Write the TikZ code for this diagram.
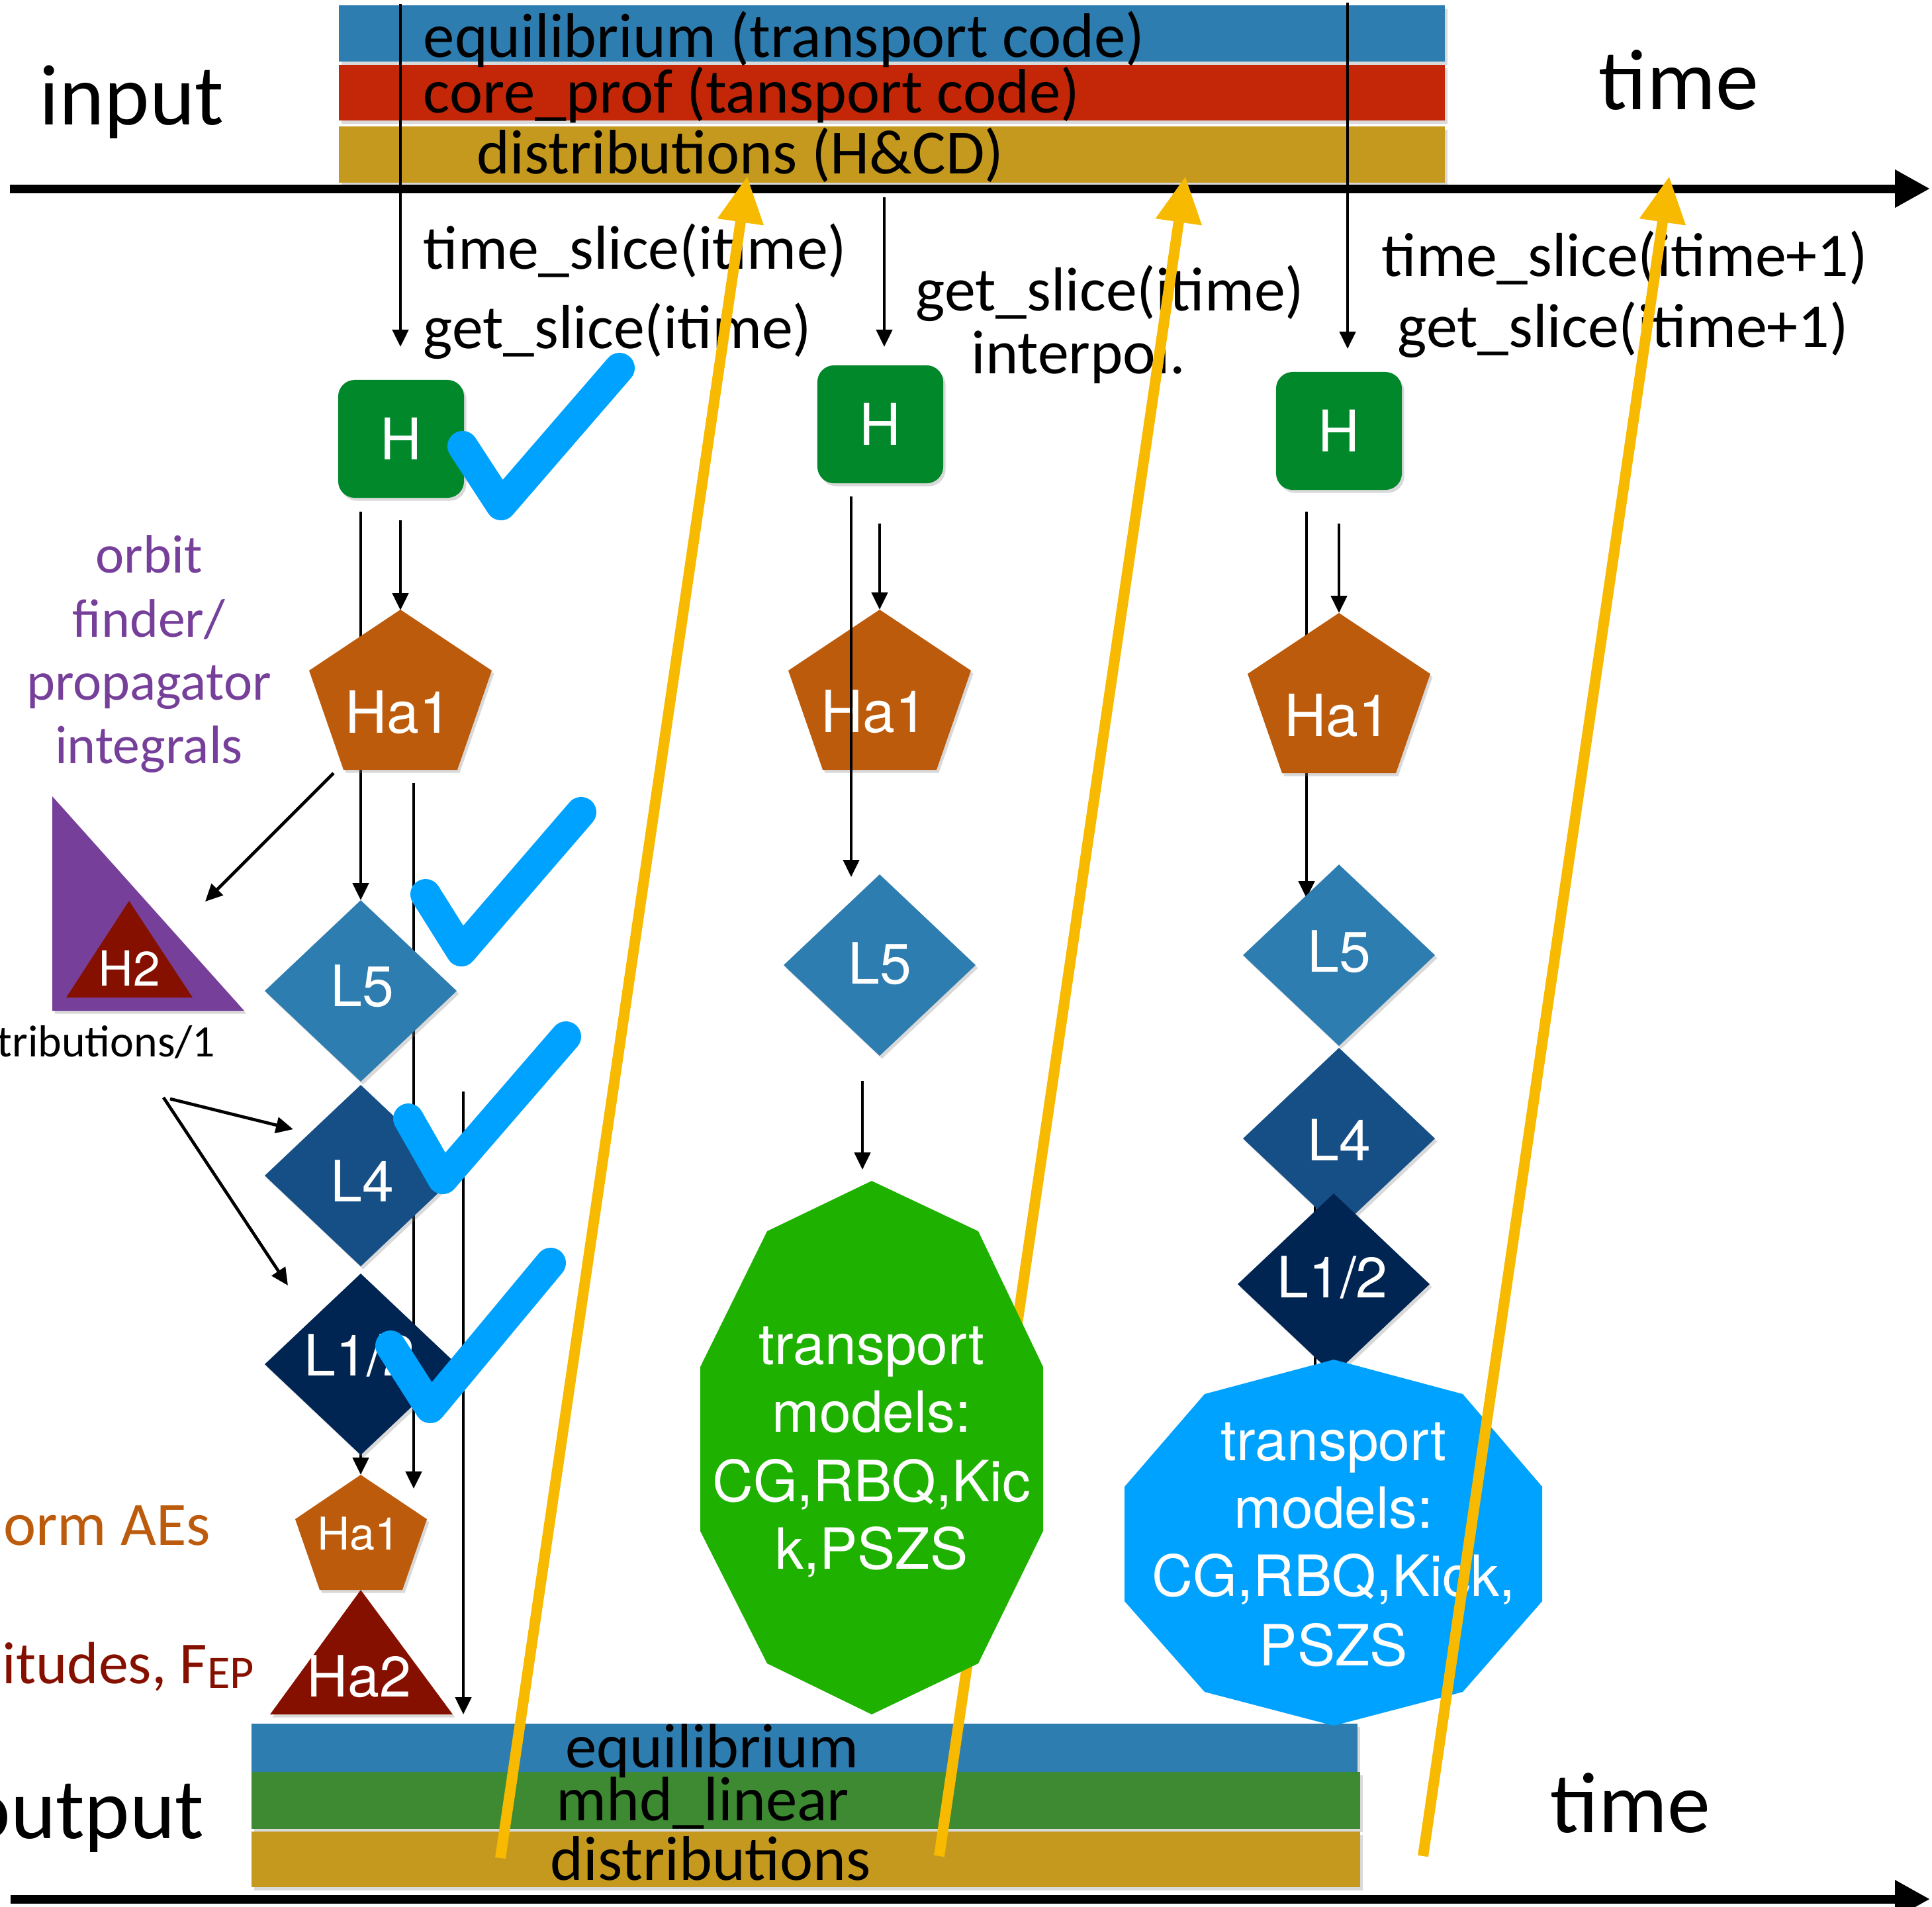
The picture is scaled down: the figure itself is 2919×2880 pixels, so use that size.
\documentclass[tikz,border=0pt]{standalone}
\usepackage{fontspec}
\setmainfont{Carlito}
\newfontfamily\hv{TeX Gyre Heros}
\usetikzlibrary{arrows.meta,shadows}
\definecolor{barblue}{HTML}{2E7DB0}
\definecolor{barred}{HTML}{C42608}
\definecolor{bargold}{HTML}{C4991E}
\definecolor{bargreen}{HTML}{3E8A32}
\definecolor{hgreen}{HTML}{00882B}
\definecolor{pentor}{HTML}{BD5B0C}
\definecolor{lfour}{HTML}{164F86}
\definecolor{lonetwo}{HTML}{002552}
\definecolor{purp}{HTML}{763F9A}
\definecolor{dred}{HTML}{861000}
\definecolor{tgreen}{HTML}{1EB100}
\definecolor{skyb}{HTML}{00A2FF}
\definecolor{ylwc}{HTML}{F7BA00}
\newcommand{\pentshape}[2]{\fill[pentor,shd] ({#1-138},{#2+92}) -- (#1,#2) -- ({#1+138},{#2+92}) -- ({#1+86},{#2+242}) -- ({#1-86},{#2+242}) -- cycle;}
\newcommand{\diamshape}[3]{\fill[#3,shd] ({#1-145},#2) -- (#1,{#2-137}) -- ({#1+145},#2) -- (#1,{#2+137}) -- cycle;}
\begin{document}
\begin{tikzpicture}[x=0.01cm,y=-0.01cm,
  shd/.style={drop shadow={shadow xshift=0.035cm,shadow yshift=-0.045cm,opacity=0.3}},
  lbl/.style={inner sep=0pt,anchor=base west},
  bigf/.style={font=\fontsize{37pt}{44pt}\selectfont},
  barf/.style={font=\fontsize{27pt}{32pt}\selectfont},
  slf/.style={font=\fontsize{26.7pt}{32pt}\selectfont},
  wtxt/.style={inner sep=0pt,anchor=base,text=white},
  blk/.style={line width=0.047cm,-{Triangle[length=0.26cm,width=0.24cm]}},
  blkline/.style={line width=0.047cm},
  ylw/.style={draw=ylwc,line width=0.16cm,-{Triangle[length=0.7cm,width=0.66cm]}},
  tline/.style={line width=0.13cm,-{Triangle[length=0.53cm,width=0.54cm]}},
  chk/.style={draw=skyb,line width=0.46cm,line cap=round,line join=round},
  hbox/.style={rectangle,rounded corners=0.25cm,minimum width=1.9cm,minimum height=1.78cm,inner sep=0pt,fill=hgreen,text=white,font=\hv\fontsize{24.7pt}{30pt}\selectfont,shd}]
\useasboundingbox (0,0) rectangle (2919,2880);
\clip (0,0) rectangle (2919,2880);

% ---------- bars ----------
\fill[barblue,shd] (512,8) rectangle (2183,93);
\fill[barred,shd] (512,98) rectangle (2183,182);
\fill[bargold,shd] (512,191) rectangle (2183,276);
\fill[barblue,shd] (380,2604) rectangle (2051,2677);
\fill[bargreen,shd] (380,2677) rectangle (2055,2763);
\fill[bargold,shd] (380,2767) rectangle (2055,2851);

\node[lbl,barf] (teq) at (639,86) {equilibrium (transport code)};
\node[lbl,barf] (tcp) at (639,170) {core\_prof (tansport code)};
\node[lbl,barf] (tdi) at (720,262) {distributions (H\&CD)};
\node[lbl,barf,anchor=base] (beq) at (1076,2670) {equilibrium};
\node[lbl,barf,anchor=base] (bmhd) at (1062,2750) {mhd\_linear};
\node[lbl,barf,anchor=base] (bdi) at (1074,2840) {distributions};

% ---------- time axes ----------
\coordinate (ax1s) at (15,285);
\coordinate (ax1e) at (2916,285);
\coordinate (ax2s) at (16,2869);
\coordinate (ax2e) at (2916,2869);
\draw[tline] (ax1s) -- (ax1e);
\draw[tline] (ax2s) -- (ax2e);

% ---------- labels ----------
\node[lbl,bigf] (input) at (59,188) {input};
\node[lbl,bigf] (timetop) at (2415,165) {time};
\node[lbl,bigf,anchor=base east] (output) at (309,2777) {output};
\node[lbl,bigf] (timebot) at (2342,2768) {time};

\node[lbl,slf] (tsl1) at (639,406) {time\_slice(itime)};
\node[lbl,slf] (gsl1) at (639,526) {get\_slice(itime)};
\node[lbl,slf] (gsl2) at (1383,469) {get\_slice(itime)};
\node[lbl,slf] (interp) at (1467,564) {interpol.};
\node[lbl,slf] (tsl3) at (2087,417) {time\_slice(itime+1)};
\node[lbl,slf] (gsl3) at (2111,524) {get\_slice(itime+1)};

\begin{scope}[every node/.style={inner sep=0pt,anchor=base,text=purp,font=\fontsize{23.3pt}{28pt}\selectfont}]
\node (orb1) at (225,865) {orbit};
\node (orb2) at (225,962) {finder/};
\node (orb3) at (225,1057) {propagator};
\node (orb4) at (225,1153) {integrals};
\end{scope}
\node[inner sep=0pt,anchor=base east,font=\fontsize{19.3pt}{23pt}\selectfont] (distr) at (326,1596) {tributions/1};
\node[inner sep=0pt,anchor=base east,text=pentor,font=\fontsize{26.5pt}{32pt}\selectfont] (aes) at (319,2334) {orm AEs};
\node[inner sep=0pt,anchor=base west,text=dred,font=\fontsize{25.6pt}{30pt}\selectfont] (ampl) at (3,2543) {itudes, F\raisebox{-0.07cm}{\fontsize{20pt}{24pt}\selectfont EP}};

% ---------- connectors behind shapes ----------
\coordinate (a2s) at (545,773);   \coordinate (a2e) at (545,1360);
\coordinate (a4s) at (625,1183);  \coordinate (a4e) at (625,2249);
\coordinate (a6s) at (545,2185);  \coordinate (a6e) at (545,2228);
\coordinate (c2s) at (1974,773);  \coordinate (c2e) at (1974,1357);
\coordinate (c4s) at (1987,1700); \coordinate (c4e) at (1987,2075);
\draw[blk] (a2s) -- (a2e);
\draw[blk] (a4s) -- (a4e);
\draw[blk] (a6s) -- (a6e);
\draw[blk] (c2s) -- (c2e);
\draw[blkline] (c4s) -- (c4e);

% yellow arrow behind the green shape
\coordinate (y2s) at (1419,2804); \coordinate (y2e) at (1791,266);
\draw[ylw] (y2s) -- (y2e);

% ---------- shapes ----------
\node[hbox] (H1) at (606,663) {H};
\node[hbox] (H2) at (1330,641) {H};
\node[hbox] (H3) at (2023,651) {H};

\pentshape{605}{921}
\pentshape{1329}{921}
\pentshape{2023}{926}

\diamshape{545}{1497}{barblue}
\diamshape{545}{1776}{lfour}
\diamshape{545}{2061}{lonetwo}
\diamshape{1329}{1458}{barblue}
\diamshape{2023}{1443}{barblue}
\diamshape{2023}{1720}{lfour}
\diamshape{2015}{1940}{lonetwo}

% small pentagon and triangles
\fill[pentor,shd] (446,2295) -- (545,2228) -- (645,2295) -- (608,2402) -- (483,2402) -- cycle;
\fill[dred,shd] (545,2402) -- (684,2590) -- (408,2590) -- cycle;
\fill[purp,shd] (79,1203) -- (369,1527) -- (79,1527) -- cycle;
\fill[dred] (195,1361) -- (291,1507) -- (100,1507) -- cycle;

% decagons
\fill[tgreen] (1317,1784) -- (1478,1860) -- (1576,2065) -- (1576,2313) -- (1478,2513) -- (1317,2590) -- (1159,2513) -- (1058,2313) -- (1058,2065) -- (1159,1860) -- cycle;
\fill[skyb] (2015,2054) -- (2210,2106) -- (2330,2246) -- (2330,2419) -- (2210,2556) -- (2015,2607) -- (1820,2556) -- (1699,2419) -- (1699,2246) -- (1820,2106) -- cycle;

% ---------- shape texts ----------
\begin{scope}[every node/.style={wtxt,font=\hv\fontsize{25pt}{30pt}\selectfont}]
\node (ha1a) at (602,1107) {Ha1};
\node (ha1b) at (1321,1106) {Ha1};
\node (ha1c) at (2021,1112) {Ha1};
\end{scope}
\begin{scope}[every node/.style={wtxt,font=\hv\fontsize{24.5pt}{30pt}\selectfont}]
\node (l5a) at (547,1520) {L5};
\node (l4a) at (547,1815) {L4};
\node (l12a) at (543,2078) {L1/2};
\node (l5b) at (1329,1486) {L5};
\node (l5c) at (2023,1468) {L5};
\node (l4c) at (2023,1753) {L4};
\node (l12c) at (2013,1960) {L1/2};
\node (ha2) at (542,2563) {Ha2};
\end{scope}
\node[wtxt,font=\hv\fontsize{19.4pt}{24pt}\selectfont] (ha1s) at (542,2341) {Ha1};
\node[wtxt,font=\hv\fontsize{20.8pt}{25pt}\selectfont] (h2) at (195,1489) {H2};
\begin{scope}[every node/.style={wtxt,font=\hv\fontsize{24.4pt}{29pt}\selectfont}]
\node (tg1) at (1317,2061) {transport};
\node (tg2) at (1317,2163) {models:};
\node (tg3) at (1317,2268) {CG,RBQ,Kic};
\node (tg4) at (1317,2370) {k,PSZS};
\node (tb1) at (2015,2206) {transport};
\node (tb2) at (2015,2308) {models:};
\node (tb3) at (2015,2411) {CG,RBQ,Kick,};
\node (tb4) at (2015,2516) {PSZS};
\end{scope}

% ---------- connectors in front ----------
\coordinate (a1s) at (605,6);     \coordinate (a1e) at (605,524);
\coordinate (a3s) at (605,786);   \coordinate (a3e) at (605,922);
\coordinate (a5s) at (700,1649);  \coordinate (a5e) at (700,2590);
\coordinate (b1s) at (1336,298);  \coordinate (b1e) at (1336,524);
\coordinate (b2s) at (1286,750);  \coordinate (b2e) at (1286,1325);
\coordinate (b3s) at (1329,791);  \coordinate (b3e) at (1329,921);
\coordinate (b4s) at (1303,1633); \coordinate (b4e) at (1303,1767);
\coordinate (c1s) at (2036,4);    \coordinate (c1e) at (2036,527);
\coordinate (c3s) at (2023,791);  \coordinate (c3e) at (2023,926);
\coordinate (d1s) at (504,1168);  \coordinate (d1e) at (310,1362);
\coordinate (d2s) at (257,1660);  \coordinate (d2e) at (443,1706);
\coordinate (d3s) at (247,1658);  \coordinate (d3e) at (435,1942);
\foreach \p in {a1,a3,a5,b1,b2,b3,b4,c1,c3,d1,d2,d3} \draw[blk] (\p s) -- (\p e);

% ---------- check marks ----------
\draw[chk] (699,674) -- (757,763) -- (936,556);
\draw[chk] (643,1351) -- (697,1437) -- (878,1227);
\draw[chk] (617,1690) -- (669,1781) -- (855,1566);
\draw[chk] (590,2033) -- (650,2127) -- (832,1908);

% ---------- yellow arrows in front ----------
\coordinate (y1s) at (756,2807);  \coordinate (y1e) at (1129,266);
\coordinate (y3s) at (2150,2804); \coordinate (y3e) at (2522,266);
\draw[ylw] (y1s) -- (y1e);
\draw[ylw] (y3s) -- (y3e);
\end{tikzpicture}
\end{document}
